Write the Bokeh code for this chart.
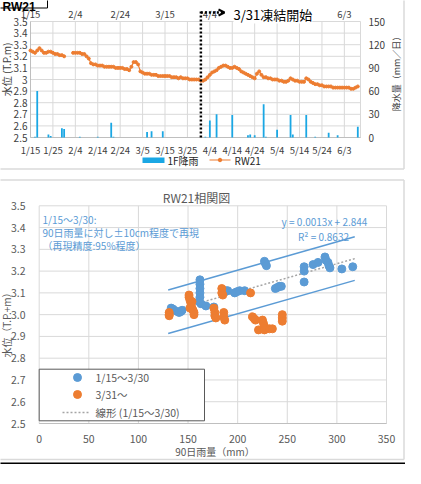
import math
from bokeh.plotting import figure
from bokeh.models import Range1d, Label, Arrow, OpenHead
from bokeh.embed import file_html
from bokeh.resources import INLINE
from bokeh.core.properties import value

nan = float("nan")

# ====================== DATA: top chart (daily, day 0 = 1/15) ======================
bottom_tick_labels = ["1/15", "1/25", "2/4", "2/14", "2/24", "3/5", "3/15", "3/25",
                      "4/4", "4/14", "4/24", "5/4", "5/14", "5/24", "6/3"]
top_tick_labels = ["1/15", "2/4", "2/24", "3/15", "4/4", "4/24", "5/14", "6/3"]
level_ticks = [2.5, 2.6, 2.7, 2.8, 2.9, 3.0, 3.1, 3.2, 3.3, 3.4, 3.5]
level_tick_labels = ["2.5", "2.6", "2.7", "2.8", "2.9", "3", "3.1", "3.2", "3.3", "3.4", "3.5"]
rain_ticks = [0, 30, 60, 90, 120, 150]
rain_tick_labels = ["0", "30", "60", "90", "120", "150"]

level = [3.25, 3.24, 3.23, 3.25, 3.27, 3.25, 3.23, 3.23, 3.24, 3.24,
         3.23, 3.22, 3.22, 3.21, 3.21, 3.20, nan, nan, nan, 3.23,
         3.23, 3.23, 3.23, 3.22, 3.22, 3.20, 3.18, 3.14, 3.13, 3.13,
         3.12, 3.12, 3.12, 3.11, 3.11, 3.11, 3.11, 3.11, 3.10, 3.10,
         3.10, 3.10, 3.09, 3.09, 3.08, 3.11, 3.15, 3.15, 3.13, 3.07,
         3.06, 3.05, 3.05, 3.05, 3.04, 3.04, 3.04, 3.03, 3.03, 3.03,
         3.03, 3.03, 3.03, 3.02, 3.02, 3.02, 3.01, 3.02, 3.01, 3.01,
         3.01, 3.00, 3.00, 3.00, 3.00, 3.00, 2.99, 2.99, 3.00, 3.02,
         3.04, 3.06, 3.07, 3.08, 3.10, 3.11, 3.12, 3.12, 3.11, 3.10,
         3.10, 3.11, 3.10, 3.09, 3.07, 3.06, 3.05, 3.04, 3.03, 3.02,
         3.01, 3.05, 3.07, 3.04, 3.02, 3.02, 3.01, 3.01, 3.00, 3.00,
         3.00, 2.99, 2.99, 2.98, 2.98, 2.99, 3.01, 3.00, 2.99, 2.99,
         2.98, 2.98, 2.98, 3.01, 3.00, 2.98, 2.97, 2.96, 2.96, 2.95,
         2.95, 2.94, 2.94, 2.94, 2.94, 2.93, 2.93, 2.93, 2.93, 2.93,
         2.93, 2.93, 2.93, 2.92, 2.92, 2.93, 2.94]

rain_day = [2, 3, 8, 9, 14, 15, 22, 30, 36, 37, 52, 54, 59, 78, 80, 83, 90,
            97, 98, 100, 104, 105, 110, 116, 117, 123, 127, 133, 137, 146]
rain_mm = [1, 60, 4, 2, 12, 11, 1, 1, 19, 1, 7, 8, 8, 1, 22, 30, 29,
           3, 4, 3, 43, 1, 10, 29, 4, 29, 1, 6, 3, 14]

freeze_day = 76          # 3/31
freeze_text = "3/31凍結開始"

# ====================== DATA: correlation chart ======================
blue_x = [133, 134, 135, 139, 141, 143, 144,
          162, 162, 162, 162, 162, 161, 163, 168, 176,
          188, 190, 197, 199, 202, 207,
          227, 228, 229, 238, 240, 242, 244,
          267, 267, 267, 276, 281, 288, 289, 291, 292, 293, 305, 316]
blue_y = [3.03, 3.02, 3.025, 3.015, 3.01, 3.015, 3.02,
          3.16, 3.14, 3.12, 3.10, 3.08, 3.06, 3.05, 3.04, 3.035,
          3.11, 3.11, 3.10, 3.105, 3.11, 3.11,
          3.245, 3.235, 3.225, 3.12, 3.125, 3.13, 3.13,
          3.22, 3.20, 3.15, 3.23, 3.24, 3.265, 3.25, 3.24, 3.225, 3.215, 3.21, 3.22]
orange_x = [131, 131, 131,
            151, 151, 152, 153, 153, 154, 155, 156, 156, 152, 154,
            176, 177, 177, 178, 184, 184, 185, 186, 186, 187,
            213, 215, 217, 218, 221, 225, 226, 227, 227, 232, 235, 245, 245, 245]
orange_y = [3.01, 2.995, 3.0,
            3.09, 3.08, 3.065, 3.05, 3.04, 3.03, 3.02, 3.01, 3.0, 3.03, 3.06,
            3.03, 3.01, 2.995, 2.985, 3.12, 3.10, 3.09, 3.01, 2.99, 2.975,
            3.10, 2.99, 2.98, 2.975, 2.93, 2.975, 2.96, 2.945, 2.93, 2.935, 2.935, 3.0, 2.985, 2.97]
slope, intercept, r2 = 0.0013, 2.844, 0.8632
band = 0.1
trend_x = [130, 318]
rain90_ticks = [0, 50, 100, 150, 200, 250, 300, 350]
rain90_tick_labels = ["0", "50", "100", "150", "200", "250", "300", "350"]
lv2_tick_labels = ["2.5", "2.6", "2.7", "2.8", "2.9", "3.0", "3.1", "3.2", "3.3", "3.4", "3.5"]
legend_labels = ["1/15～3/30", "3/31～", "線形 (1/15～3/30)"]
note_lines = ["1/15～3/30:", "90日雨量に対し±10cm程度で再現", "（再現精度:95%程度）"]

# ====================== STYLE ======================
FONT = "Noto Sans CJK JP"
GRID = "#D9D9D9"
AXIS = "#BFBFBF"
TXT = "#404040"
TXT2 = "#595959"
ORANGE = "#ED7D31"
BLUE = "#5B9BD5"
BAR = "#1AA7E4"
PANEL = "#DADADA"


def lin(p0, p1, v0, v1):
    k = (v1 - v0) / (p1 - p0)
    return lambda q: v0 + (q - p0) * k


# page extent of the canvas (window has an 8px margin)
PL, PR, PT, PB = 8, 413, 8, 472
# plot areas on the page
T_L, T_R, T_T, T_B = 38, 368, 29, 145
X_END = 147.2
day_at = lin(T_L, T_R, 0, X_END)
page_of_day = lin(0, X_END, T_L, T_R)
lvl_at = lin(T_B, T_T, level_ticks[0], level_ticks[-1])
rain_at = lin(T_B, T_T, rain_ticks[0], rain_ticks[-1])
B_L, B_R, B_T, B_B = 46.7, 394, 213.3, 431
r90_at = lin(B_L, B_R, rain90_ticks[0], rain90_ticks[-1])
lv2_at = lin(B_B, B_T, level_ticks[0], level_ticks[-1])

p = figure(width=PR - PL, height=PB - PT,
           x_range=Range1d(PL, PR), y_range=Range1d(PB, PT),
           min_border=0, min_border_left=0, min_border_right=0,
           min_border_top=0, min_border_bottom=0,
           x_axis_location=None, y_axis_location=None, outline_line_color=None,
           output_backend="svg", toolbar_location=None,
           background_fill_color="white", border_fill_color="white")
p.grid.visible = False
p.extra_x_ranges = {"days": Range1d(day_at(PL), day_at(PR)),
                    "r90": Range1d(r90_at(PL), r90_at(PR))}
p.extra_y_ranges = {"level": Range1d(lvl_at(PB), lvl_at(PT)),
                    "rain": Range1d(rain_at(PB), rain_at(PT)),
                    "lv2": Range1d(lv2_at(PB), lv2_at(PT))}

T = dict(x_range_name="days", y_range_name="level")
B = dict(x_range_name="r90", y_range_name="lv2")
LO, HI = level_ticks[0], level_ticks[-1]


def txt(x, y, t, size="10px", color=TXT, align="center", baseline="middle", angle=0.0,
        font=FONT, style="normal", **rng):
    p.text(x=x, y=y, text=t, angle=angle, text_align=align, text_baseline=baseline,
           text_font=value(font), text_font_size=value(size), text_color=color,
           text_font_style=value(style), **rng)


bottom_ticks = [10 * i for i in range(len(bottom_tick_labels))]
top_ticks = [20 * i for i in range(len(top_tick_labels))]
days = list(range(len(level)))

# ---------------------------------------------------------------- top chart
n = len(level_ticks)
k = len(bottom_ticks)
p.segment(x0=[0] * n, x1=[X_END] * n, y0=level_ticks, y1=level_ticks,
          line_color=GRID, line_width=1, **T)
p.segment(x0=bottom_ticks, x1=bottom_ticks, y0=[LO] * k, y1=[HI] * k,
          line_color=GRID, line_width=1, **T)
p.segment(x0=[X_END], x1=[X_END], y0=[LO], y1=[HI], line_color=GRID, line_width=1, **T)
p.segment(x0=[0, 0], x1=[0, X_END], y0=[LO, LO], y1=[HI, LO], line_color=AXIS, line_width=1, **T)

p.vbar(x=rain_day, top=rain_mm, bottom=0, width=0.8, fill_color=BAR, line_color=None,
       x_range_name="days", y_range_name="rain")
p.line(days, level, line_color=ORANGE, line_width=1.2, **T)
p.scatter(days, level, size=3, color=ORANGE, **T)

# freeze marker
p.segment(x0=[freeze_day], x1=[freeze_day], y0=[LO], y1=[lvl_at(19)],
          line_color="black", line_width=2.5, line_dash="2 2", **T)
p.add_layout(Arrow(end=OpenHead(size=6, line_width=2, line_color="black"),
                   x_start=page_of_day(freeze_day), y_start=20, x_end=232, y_end=20,
                   line_color="black", line_width=2.5, line_dash="2 2"))

# tick labels / axis titles
txt([day_at(35)] * n, level_ticks, level_tick_labels, align="right", **T)
txt([day_at(376)] * len(rain_ticks), rain_ticks, rain_tick_labels, align="left",
    x_range_name="days", y_range_name="rain")
txt(bottom_ticks, [lvl_at(157)] * k, bottom_tick_labels, size="9.5px", **T)
txt(top_ticks, [lvl_at(21)] * len(top_ticks), top_tick_labels, size="9.5px", **T)
txt([14], [77], ["水位 (T.P.m)"], angle=math.pi / 2)
txt([404], [79], ["降水量（mm／日）"], size="9px", angle=math.pi / 2)

p.add_layout(Label(x=241, y=21.5, text=freeze_text, text_baseline="middle",
                   text_font=FONT, text_font_size="13px", text_color="#000000",
                   background_fill_color="white"))

# legend of the top chart
p.quad(left=[150], right=[172], top=[165], bottom=[170.5], fill_color=BAR, line_color=None)
txt([175], [168], ["1F降雨"], align="left", color="#262626")
p.segment(x0=[217], x1=[238], y0=[167.5], y1=[167.5], line_color=ORANGE, line_width=1.2)
p.scatter([227.5], [167.5], size=3.5, color=ORANGE)
txt([242], [168], ["RW21"], align="left", color="#262626")

# RW21 tag and panel frame
p.quad(left=[4], right=[55], top=[4], bottom=[15.5], fill_color="white",
       line_color="black", line_width=1)
txt([10], [14.5], ["RW21"], size="12px", color="#000000", align="left",
    baseline="alphabetic", font="Liberation Sans", style="bold")
p.segment(x0=[411.5, 4], x1=[411.5, 411.5], y0=[4, 176.5], y1=[176.5, 176.5],
          line_color=PANEL, line_width=1.5)

# ---------------------------------------------------------------- correlation chart
m = len(rain90_ticks)
p.segment(x0=[0] * n, x1=[rain90_ticks[-1]] * n, y0=level_ticks, y1=level_ticks,
          line_color=GRID, line_width=1, **B)
p.segment(x0=rain90_ticks, x1=rain90_ticks, y0=[LO] * m, y1=[HI] * m,
          line_color=GRID, line_width=1, **B)
p.segment(x0=[0], x1=[rain90_ticks[-1]], y0=[LO], y1=[LO], line_color=AXIS, line_width=1, **B)

trend_y = [slope * x + intercept for x in trend_x]
p.line(trend_x, [y + band for y in trend_y], line_color=BLUE, line_width=1.5, **B)
p.line(trend_x, [y - band for y in trend_y], line_color=BLUE, line_width=1.5, **B)
p.line(trend_x, trend_y, line_color="#A5A5A5", line_width=1.5, line_dash="2 2", **B)
p.scatter(blue_x, blue_y, size=8, color=BLUE, **B)
p.scatter(orange_x, orange_y, size=8, color=ORANGE, **B)

# legend box
p.quad(left=[46.7], right=[212], top=[376.7], bottom=[428.3], fill_color="white",
       line_color="#595959", line_width=1)
p.scatter([85], [385], size=8, color=BLUE)
p.scatter([85], [402], size=8, color=ORANGE)
p.segment(x0=[70], x1=[98], y0=[420], y1=[420], line_color="#A5A5A5", line_width=1.5,
          line_dash="2 2")
txt([103] * 3, [385, 402, 420], legend_labels, size="10.5px", color=TXT2, align="left")

# annotation texts
txt([50] * 3, [226.7, 240, 252.7], note_lines, size="10px", color=BLUE, align="left")
txt([332], [229], [f"y = {slope}x + {intercept}"], size="10px", color=BLUE)
txt([331], [244], [f"R² = {r2}"], size="10px", color=BLUE)

# ticks / titles
txt([r90_at(33)] * n, level_ticks, lv2_tick_labels, size="10.5px", color=TXT2,
    align="right", **B)
txt(rain90_ticks, [lv2_at(446)] * m, rain90_tick_labels, size="10.5px", color=TXT2, **B)
txt([204], [204.5], ["RW21相関図"], size="12px", color=TXT2)
txt([222.5], [459], ["90日雨量（mm）"], size="10px", color=TXT2)
txt([13.5], [330], ["水位（T.P.+m）"], size="10px", color=TXT2, angle=math.pi / 2)

# panel frame and bottom rule
p.segment(x0=[4, 411.5, 4], x1=[411.5, 411.5, 411.5], y0=[187.5, 187.5, 467],
          y1=[187.5, 467, 467], line_color=PANEL, line_width=1.5)
p.quad(left=[4], right=[417], top=[470], bottom=[473], fill_color="black", line_color=None)

open("out.html", "w").write(file_html(p, INLINE))
